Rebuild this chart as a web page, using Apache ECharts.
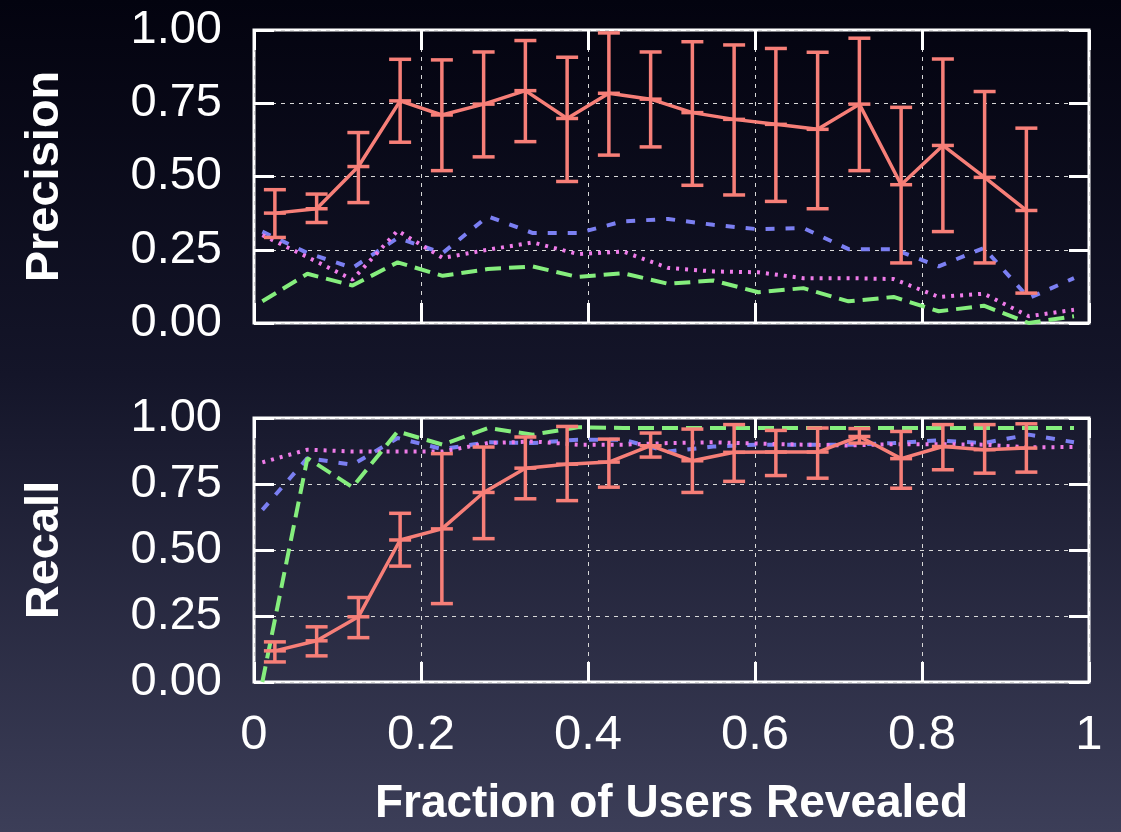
<!DOCTYPE html>
<html>
<head>
<meta charset="utf-8">
<script src="https://cdn.jsdelivr.net/npm/echarts@6/dist/echarts.min.js"></script>
<style>
html, body { margin: 0; padding: 0; }
#chart { width: 1121px; height: 832px; }
</style>
</head>
<body>
<div id="chart"></div>
<script>
// x positions: error-bar series and the three comparison series
var xRed = [0.025, 0.075, 0.125, 0.175, 0.225, 0.275, 0.325, 0.375, 0.425, 0.475,
            0.525, 0.575, 0.625, 0.675, 0.725, 0.775, 0.825, 0.875, 0.925];
var xOther = [0.010, 0.064, 0.118, 0.172, 0.226, 0.280, 0.334, 0.388, 0.442, 0.496,
              0.550, 0.604, 0.658, 0.712, 0.766, 0.820, 0.874, 0.928, 0.982];

// precision
var precMean = [0.375, 0.39, 0.534, 0.758, 0.71, 0.747, 0.793, 0.698, 0.784, 0.764,
                0.718, 0.695, 0.678, 0.661, 0.747, 0.472, 0.606, 0.497, 0.384];
var precLow  = [0.292, 0.343, 0.411, 0.617, 0.52, 0.567, 0.619, 0.483, 0.573, 0.601,
                0.47, 0.437, 0.415, 0.39, 0.52, 0.205, 0.312, 0.205, 0.102];
var precHigh = [0.455, 0.44, 0.65, 0.9, 0.898, 0.925, 0.964, 0.907, 0.99, 0.925,
                0.96, 0.949, 0.937, 0.924, 0.972, 0.736, 0.901, 0.79, 0.665];
var precBlue  = [0.312, 0.239, 0.188, 0.29, 0.239, 0.364, 0.307, 0.307, 0.347, 0.355,
                 0.335, 0.32, 0.324, 0.252, 0.252, 0.193, 0.256, 0.085, 0.153];
var precPink  = [0.30, 0.225, 0.148, 0.315, 0.222, 0.25, 0.275, 0.235, 0.244, 0.188,
                 0.176, 0.173, 0.153, 0.153, 0.15, 0.089, 0.10, 0.023, 0.045];
var precGreen = [0.074, 0.168, 0.128, 0.207, 0.161, 0.184, 0.193, 0.157, 0.17, 0.134,
                 0.145, 0.105, 0.119, 0.074, 0.089, 0.04, 0.059, 0.0, 0.023];

// recall
var recMean = [0.118, 0.156, 0.247, 0.538, 0.58, 0.718, 0.81, 0.825, 0.833, 0.895,
               0.838, 0.87, 0.871, 0.871, 0.93, 0.846, 0.892, 0.88, 0.886];
var recLow  = [0.076, 0.099, 0.168, 0.439, 0.297, 0.543, 0.694, 0.687, 0.738, 0.852,
               0.718, 0.76, 0.782, 0.772, 0.905, 0.734, 0.804, 0.791, 0.795];
var recHigh = [0.152, 0.209, 0.32, 0.639, 0.865, 0.89, 0.928, 0.968, 0.92, 0.943,
               0.958, 0.975, 0.953, 0.962, 0.96, 0.949, 0.975, 0.975, 0.978];
var recBlue  = [0.652, 0.848, 0.823, 0.924, 0.882, 0.908, 0.905, 0.918, 0.918, 0.873,
                0.892, 0.899, 0.899, 0.899, 0.905, 0.915, 0.905, 0.937, 0.908];
var recPink  = [0.832, 0.88, 0.873, 0.873, 0.873, 0.905, 0.911, 0.899, 0.899, 0.905,
                0.908, 0.903, 0.899, 0.896, 0.901, 0.901, 0.899, 0.889, 0.89];
var recGreen = [0.0, 0.848, 0.738, 0.949, 0.899, 0.962, 0.937, 0.965, 0.962, 0.962,
                0.962, 0.962, 0.962, 0.962, 0.962, 0.962, 0.962, 0.962, 0.962];

var RED = '#f77f78', BLUE = '#7b7ff2', PINK = '#ef7be9', GREEN = '#85ee7d';
var FONT = '"Liberation Sans", Arial, Helvetica, sans-serif';

function pairs(xs, ys) {
  return ys.map(function (v, i) { return [xs[i], v]; });
}
function bars(xs, lo, hi, mid) {
  return mid.map(function (v, i) { return [xs[i], lo[i], hi[i], v]; });
}

function errRender(params, api) {
  var x = api.value(0);
  var pLo = api.coord([x, api.value(1)]);
  var pHi = api.coord([x, api.value(2)]);
  var pMid = api.coord([x, api.value(3)]);
  var hw = 11;
  var st = { stroke: RED, lineWidth: 3.5 };
  return {
    type: 'group',
    children: [
      { type: 'line', shape: { x1: pLo[0], y1: pLo[1], x2: pHi[0], y2: pHi[1] }, style: st },
      { type: 'line', shape: { x1: pLo[0] - hw, y1: pLo[1], x2: pLo[0] + hw, y2: pLo[1] }, style: st },
      { type: 'line', shape: { x1: pHi[0] - hw, y1: pHi[1], x2: pHi[0] + hw, y2: pHi[1] }, style: st },
      { type: 'line', shape: { x1: pMid[0] - hw, y1: pMid[1], x2: pMid[0] + hw, y2: pMid[1] }, style: st }
    ]
  };
}

function tick() {
  return { show: true, inside: true, length: 20, lineStyle: { color: '#fff', width: 3 } };
}
function split() {
  return { show: true, lineStyle: { color: '#d8d8d8', width: 1, type: [4, 5] } };
}

function xAx(grid, pos, labels, name) {
  return {
    type: 'value', gridIndex: grid, position: pos, min: 0, max: 1, interval: 0.2,
    axisLine: { show: false, onZero: false }, axisTick: tick(),
    splitLine: pos === 'bottom' ? split() : { show: false },
    axisLabel: { show: labels, color: '#fff', fontSize: 49, fontFamily: FONT, margin: 29 },
    name: name || '', nameLocation: 'middle', nameGap: 99,
    nameTextStyle: { color: '#fff', fontSize: 46, fontWeight: 'bold', fontFamily: FONT }
  };
}
function yAx(grid, pos, labels, name) {
  return {
    type: 'value', gridIndex: grid, position: pos, min: 0, max: 1, interval: 0.25,
    axisLine: { show: false, onZero: false }, axisTick: tick(),
    splitLine: pos === 'left' ? split() : { show: false },
    axisLabel: {
      show: labels, color: '#fff', fontSize: 47, fontFamily: FONT, margin: 32,
      formatter: function (v) { return v.toFixed(2); }
    },
    name: name || '', nameLocation: 'middle', nameRotate: 90, nameGap: 185,
    nameTextStyle: { color: '#fff', fontSize: 47, fontWeight: 'bold', fontFamily: FONT }
  };
}

function lineSeries(xi, yi, data, color, dash, z) {
  return {
    type: 'line', xAxisIndex: xi, yAxisIndex: yi, data: data,
    symbol: 'none', z: z,
    lineStyle: { color: color, width: 4, type: dash }
  };
}

var option = {
  animation: false,
  backgroundColor: {
    type: 'linear', x: 0, y: 0, x2: 0, y2: 1,
    colorStops: [
      { offset: 0, color: '#03030f' },
      { offset: 0.45, color: '#141529' },
      { offset: 1, color: '#3c3e58' }
    ]
  },
  grid: [
    { left: 254, top: 30, width: 835, height: 293, show: true,
      borderColor: '#fff', borderWidth: 3, backgroundColor: 'transparent' },
    { left: 254, top: 418, width: 835, height: 264, show: true,
      borderColor: '#fff', borderWidth: 3, backgroundColor: 'transparent' }
  ],
  xAxis: [
    xAx(0, 'bottom', false),
    xAx(0, 'top', false),
    xAx(1, 'bottom', true, 'Fraction of Users Revealed'),
    xAx(1, 'top', false)
  ],
  yAxis: [
    yAx(0, 'left', true, 'Precision'),
    yAx(0, 'right', false),
    yAx(1, 'left', true, 'Recall'),
    yAx(1, 'right', false)
  ],
  series: [
    lineSeries(0, 0, pairs(xOther, precBlue), BLUE, [9, 11], 3),
    lineSeries(0, 0, pairs(xOther, precPink), PINK, [3, 6], 4),
    lineSeries(0, 0, pairs(xOther, precGreen), GREEN, [16, 8], 5),
    {
      type: 'line', xAxisIndex: 0, yAxisIndex: 0, data: pairs(xRed, precMean),
      symbol: 'none', z: 6, lineStyle: { color: RED, width: 3.5 }
    },
    {
      type: 'custom', xAxisIndex: 0, yAxisIndex: 0, z: 7,
      data: bars(xRed, precLow, precHigh, precMean),
      encode: { x: 0, y: [1, 2] }, renderItem: errRender
    },
    lineSeries(2, 2, pairs(xOther, recBlue), BLUE, [9, 11], 3),
    lineSeries(2, 2, pairs(xOther, recPink), PINK, [3, 6], 4),
    lineSeries(2, 2, pairs(xOther, recGreen), GREEN, [16, 8], 5),
    {
      type: 'line', xAxisIndex: 2, yAxisIndex: 2, data: pairs(xRed, recMean),
      symbol: 'none', z: 6, lineStyle: { color: RED, width: 3.5 }
    },
    {
      type: 'custom', xAxisIndex: 2, yAxisIndex: 2, z: 7,
      data: bars(xRed, recLow, recHigh, recMean),
      encode: { x: 0, y: [1, 2] }, renderItem: errRender
    }
  ]
};

var chart = echarts.init(document.getElementById('chart'));
chart.setOption(option);
</script>
</body>
</html>
